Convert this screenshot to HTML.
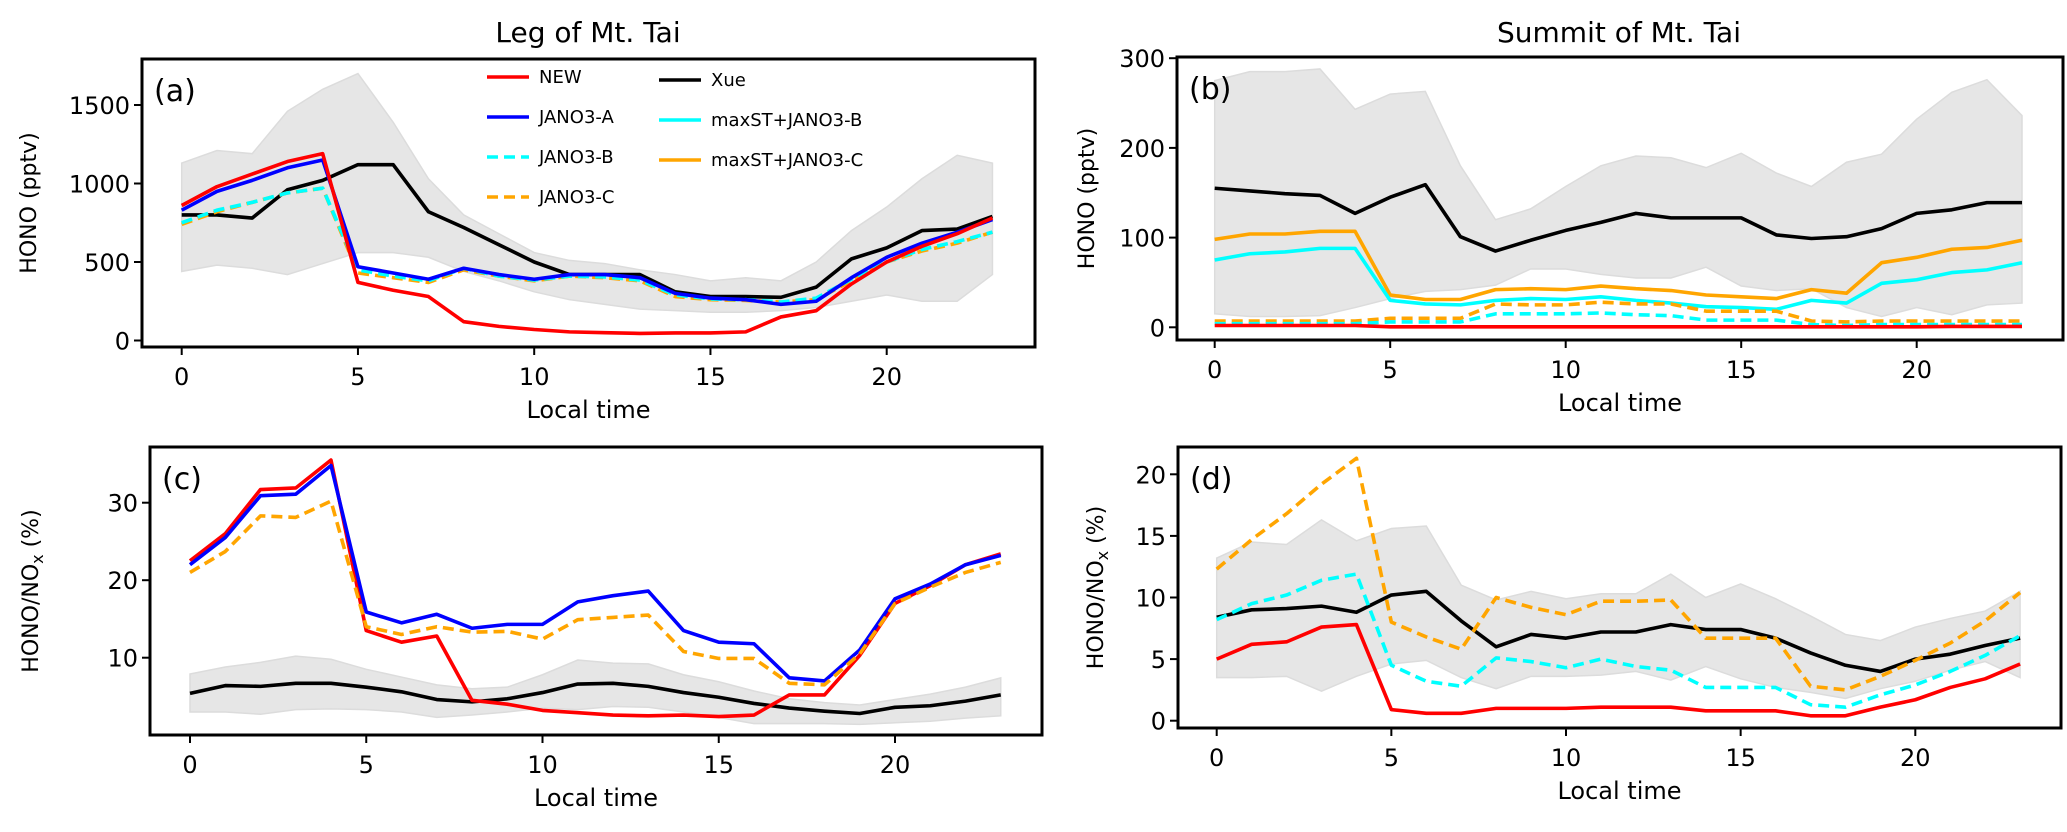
<!DOCTYPE html>
<html><head><meta charset="utf-8"><style>
html,body{margin:0;padding:0;background:#fff;}
svg{display:block;font-family:"DejaVu Sans","Liberation Sans",sans-serif;}
</style></head><body>
<svg id="fig" width="2067" height="832" viewBox="0 0 2067 832" xmlns="http://www.w3.org/2000/svg">
<text x="588" y="42" font-size="28" text-anchor="middle">Leg of Mt. Tai</text>
<text x="1619" y="42" font-size="28" text-anchor="middle">Summit of Mt. Tai</text>
</svg>
<script>
const hours=[0,1,2,3,4,5,6,7,8,9,10,11,12,13,14,15,16,17,18,19,20,21,22,23];
// Panel a
const aNEW=[860,980,1060,1140,1190,370,320,280,120,90,70,55,50,45,48,48,55,150,190,360,500,600,680,780];
const aJA=[830,950,1020,1100,1150,470,430,390,460,420,390,420,420,400,300,270,260,230,250,400,530,620,690,770];
const aJB=[750,830,880,940,970,450,410,380,460,410,385,410,405,385,290,265,260,245,270,390,500,580,630,690];
const aJC=[740,820,880,940,970,430,400,370,450,410,380,410,400,380,280,260,255,245,260,380,500,570,620,690];
const aXue=[800,800,780,960,1020,1120,1120,820,720,610,500,420,420,420,310,280,280,275,340,520,590,700,710,790];
const aUp=[1130,1210,1190,1460,1600,1700,1390,1030,800,680,560,510,490,450,420,380,400,380,500,700,850,1030,1180,1130];
const aLo=[440,480,460,420,490,560,560,530,440,380,310,260,230,200,190,180,180,190,210,250,290,250,250,420];
const aTicks=[0,500,1000,1500];
// Panel b
const bXue=[155,152,149,147,127,145,159,101,85,97,108,117,127,122,122,122,103,99,101,110,127,131,139,139];
const bMC=[98,104,104,107,107,36,31,31,42,43,42,46,43,41,36,34,32,42,38,72,78,87,89,97];
const bMB=[75,82,84,88,88,30,26,25,30,32,31,34,30,27,23,22,20,30,27,49,53,61,64,72];
const bJC=[7,7,7,7,7,10,10,10,26,25,25,28,26,26,18,18,18,7,6,7,7,7,7,7];
const bJB=[4,4,4,4,4,6,6,6,15,15,15,16,14,13,8,8,8,3,2,3,3,3,3,3];
const bNEW=[2,2,2,2,2,0.5,0.5,0.5,0.5,0.5,0.5,0.5,0.5,0.5,0.5,0.5,0.5,0.5,0.5,0.5,0.5,1,1,1];
const bUp=[275,285,285,288,243,260,263,180,120,132,157,180,191,189,178,194,172,157,184,193,232,262,276,236];
const bLo=[15,12,12,13,22,32,40,42,47,65,65,59,55,55,67,46,41,43,22,12,22,14,25,27];
const bTicks=[0,100,200,300];
// Panel c
const cNEW=[22.5,26,31.7,31.9,35.5,13.5,12,12.8,4.5,4,3.2,2.9,2.6,2.5,2.6,2.4,2.6,5.2,5.2,10.3,17,19.3,22,23.4];
const cJA=[22,25.5,30.9,31.1,34.8,15.9,14.5,15.6,13.8,14.3,14.3,17.2,18,18.6,13.5,12,11.8,7.4,7,11,17.6,19.5,22,23.2];
const cJC=[21,23.7,28.3,28.1,30.2,14,13,14,13.3,13.4,12.4,14.9,15.2,15.5,10.8,9.9,9.9,6.7,6.5,10.5,17,19.1,21,22.3];
const cXue=[5.4,6.4,6.3,6.7,6.7,6.2,5.6,4.6,4.3,4.7,5.5,6.6,6.7,6.3,5.5,4.9,4.1,3.5,3.1,2.8,3.6,3.8,4.4,5.2];
const cUp=[7.9,8.8,9.4,10.2,9.8,8.5,7.5,6.5,6,6.2,7.8,9.7,9.3,9.2,7.8,6.9,5.7,4.7,4.2,3.9,4.6,5.3,6.2,7.4];
const cLo=[3,3,2.7,3.3,3.4,3.3,3,2.3,2.6,3,3.5,3.3,3.7,3.6,3,2.3,1.5,1.5,1.5,1.4,1.6,1.8,2.2,2.5];
const cTicks=[10,20,30];
// Panel d
const dJC=[12.3,14.7,16.8,19.2,21.3,8,6.8,5.8,10,9.2,8.6,9.7,9.7,9.8,6.7,6.7,6.7,2.8,2.5,3.6,4.9,6.3,8.1,10.4];
const dJB=[8.2,9.5,10.2,11.4,11.9,4.5,3.2,2.8,5.1,4.8,4.3,5,4.4,4.1,2.7,2.7,2.7,1.3,1.1,2.1,2.9,4,5.3,6.9];
const dXue=[8.4,9,9.1,9.3,8.8,10.2,10.5,8.1,6,7,6.7,7.2,7.2,7.8,7.4,7.4,6.7,5.5,4.5,4,5,5.4,6.1,6.7];
const dNEW=[5,6.2,6.4,7.6,7.8,0.9,0.6,0.6,1,1,1,1.1,1.1,1.1,0.8,0.8,0.8,0.4,0.4,1.1,1.7,2.7,3.4,4.6];
const dUp=[13.2,14.5,14.3,16.3,14.6,15.6,15.8,11,9.8,10.5,9.9,10.3,10.3,11.9,10,11.1,9.9,8.5,7,6.5,7.6,8.3,8.9,10.5];
const dLo=[3.5,3.5,3.6,2.4,3.6,4.6,4.9,3.5,2.6,3.6,3.6,3.7,4,3.3,4.4,3.4,2.7,2.3,1.8,2.6,3.2,4.1,4.8,3.5];
const dTicks=[0,5,10,15,20];
const xTicks=[0,5,10,15,20];

const NS='http://www.w3.org/2000/svg';
const svg=document.getElementById('fig');
function mk(tag,attrs,parent){const e=document.createElementNS(NS,tag);for(const k in attrs)e.setAttribute(k,attrs[k]);(parent||svg).appendChild(e);return e;}

function panel(cfg){
  const g=mk('g',{});
  
  
  const X=h=>cfg.x0+h*cfg.dx;
  const Y=v=>cfg.y0-v*cfg.ky;
  let d='';
  hours.forEach((h,i)=>{d+=(i?'L':'M')+X(h)+','+Y(cfg.up[i]);});
  for(let i=hours.length-1;i>=0;i--)d+='L'+X(hours[i])+','+Y(cfg.lo[i]);
  const band=mk('path',{d:d+'Z',fill:'#e6e6e6',stroke:'#dcdcdc','stroke-width':1.5},g);
  
  
  cfg.series.forEach(s=>{
    const pts=hours.map((h,i)=>X(h)+','+Y(s.v[i])).join(' ');
    const p=mk('polyline',{points:pts,fill:'none',stroke:s.c,'stroke-width':3.6,'stroke-linejoin':'round'},g);
    if(s.dash)p.setAttribute('stroke-dasharray','11,6');
    
    
  });
  const fr=mk('rect',{x:cfg.bx[0],y:cfg.by[0],width:cfg.bx[1]-cfg.bx[0],height:cfg.by[1]-cfg.by[0],fill:'none',stroke:'#000','stroke-width':3},g);
  
  
  xTicks.forEach(t=>{
    mk('line',{x1:X(t),x2:X(t),y1:cfg.by[1],y2:cfg.by[1]+8,stroke:'#000','stroke-width':2},g);
    const tx=mk('text',{x:X(t),y:cfg.by[1]+38,'font-size':24,'text-anchor':'middle'},g);
    tx.textContent=t;
    
    
  });
  cfg.yt.forEach(t=>{
    mk('line',{x1:cfg.bx[0]-8,x2:cfg.bx[0],y1:Y(t),y2:Y(t),stroke:'#000','stroke-width':2},g);
    const tx=mk('text',{x:cfg.bx[0]-12,y:Y(t)+9,'font-size':24,'text-anchor':'end'},g);
    tx.textContent=t;
    
    
  });
  const xl=mk('text',{x:(cfg.bx[0]+cfg.bx[1])/2,y:cfg.by[1]+71,'font-size':24,'text-anchor':'middle'},g);
  xl.textContent='Local time';
  
  
  const cy=(cfg.by[0]+cfg.by[1])/2;
  const yl=mk('text',{x:cfg.ylx,y:cy,'font-size':22,'text-anchor':'middle',transform:'rotate(-90 '+cfg.ylx+' '+cy+')'},g);
  yl.innerHTML=cfg.ylab;
  
  
  const pl=mk('text',{x:cfg.bx[0]+12,y:cfg.by[0]+42,'font-size':30},g);
  pl.textContent=cfg.label;
  
  
  return g;
}
panel({name:'panel-a',x0:181.7,dx:35.25,y0:340.5,ky:0.157,bx:[142,1035],by:[59,347],up:aUp,lo:aLo,yt:aTicks,ylx:36,ylab:'HONO (pptv)',label:'(a)',
 series:[{n:'line-xue',c:'#000',v:aXue},{n:'line-jano3-c',c:'#ffa500',v:aJC,dash:1},{n:'line-jano3-b',c:'#00ffff',v:aJB,dash:1},{n:'line-jano3-a',c:'#0000ff',v:aJA},{n:'line-new',c:'#ff0000',v:aNEW}]});
panel({name:'panel-b',x0:1214.7,dx:35.1,y0:327.3,ky:0.897,bx:[1177,2063],by:[57,340],up:bUp,lo:bLo,yt:bTicks,ylx:1094,ylab:'HONO (pptv)',label:'(b)',
 series:[{n:'line-xue',c:'#000',v:bXue},{n:'line-maxst-jano3-c',c:'#ffa500',v:bMC},{n:'line-maxst-jano3-b',c:'#00ffff',v:bMB},{n:'line-jano3-c',c:'#ffa500',v:bJC,dash:1},{n:'line-jano3-b',c:'#00ffff',v:bJB,dash:1},{n:'line-new',c:'#ff0000',v:bNEW}]});
panel({name:'panel-c',x0:190,dx:35.25,y0:735.2,ky:7.75,bx:[150,1042],by:[447,735],up:cUp,lo:cLo,yt:cTicks,ylx:38,ylab:'HONO/NO<tspan font-size="16" dy="5">x</tspan><tspan dy="-5"> (%)</tspan>',label:'(c)',
 series:[{n:'line-xue',c:'#000',v:cXue},{n:'line-new',c:'#ff0000',v:cNEW},{n:'line-jano3-a',c:'#0000ff',v:cJA},{n:'line-jano3-c',c:'#ffa500',v:cJC,dash:1}]});
panel({name:'panel-d',x0:1216.7,dx:34.93,y0:720.7,ky:12.32,bx:[1178,2061],by:[447,728],up:dUp,lo:dLo,yt:dTicks,ylx:1103,ylab:'HONO/NO<tspan font-size="16" dy="5">x</tspan><tspan dy="-5"> (%)</tspan>',label:'(d)',
 series:[{n:'line-xue',c:'#000',v:dXue},{n:'line-jano3-c',c:'#ffa500',v:dJC,dash:1},{n:'line-jano3-b',c:'#00ffff',v:dJB,dash:1},{n:'line-new',c:'#ff0000',v:dNEW}]});

const legNames=['NEW','JANO3-A','JANO3-B','JANO3-C','Xue','maxST+JANO3-B','maxST+JANO3-C'];
const legColors=['#ff0000','#0000ff','#00ffff','#ffa500','#000','#00ffff','#ffa500'];
const legDash=[0,0,1,1,0,0,0];
const lg=mk('g',{});


legNames.forEach((n,i)=>{
  const col=i<4?0:1, row=i<4?i:i-4;
  const lx=col?659:487, ly=(col?80:77)+row*40;
  const ln=mk('line',{x1:lx,x2:lx+42,y1:ly,y2:ly,stroke:legColors[i],'stroke-width':3.6},lg);
  if(legDash[i])ln.setAttribute('stroke-dasharray','11,6');
  const t=mk('text',{x:lx+52,y:ly+6,'font-size':18},lg);
  t.textContent=n;
  
  
});
</script>
</body></html>
